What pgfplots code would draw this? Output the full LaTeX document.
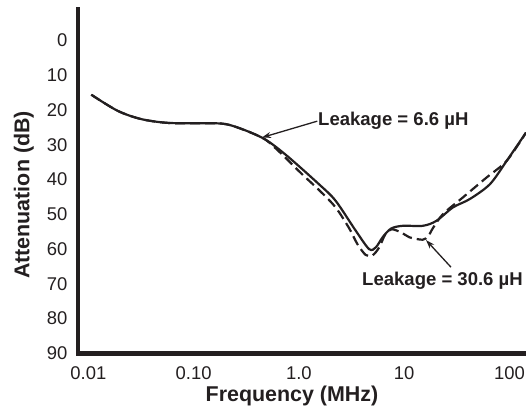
\documentclass[border=0pt]{standalone}
\usepackage{fontspec}
\setmainfont{Liberation Sans}
\usepackage{pgfplots}
\pgfplotsset{compat=1.18}
\usetikzlibrary{arrows.meta}
\definecolor{ink}{HTML}{231F20}
\begin{document}
\begin{tikzpicture}
\useasboundingbox (-78bp,-54.6bp) rectangle (448bp,353.4bp);
\begin{axis}[
  at={(0,0)}, anchor=south west, scale only axis,
  width=448bp, height=343.85bp,
  xmode=log, xmin=0.00798, xmax=143.4,
  ymin=-8.9, ymax=90, y dir=reverse,
  axis x line=bottom, axis y line=left,
  axis line style={-, line width=4.5bp, ink, line cap=rect},
  tick style={draw=none},
  xtick={0.01,0.1,1,10,100}, xticklabels={0.01,0.10,1.0,10,100},
  ytick={0,10,...,90},
  /pgf/number format/assume math mode=true,
  tick label style={font=\fontsize{18.5}{22}\selectfont, text=ink},
  xticklabel style={yshift=-8bp},
  yticklabel style={xshift=-5bp},
  xlabel={Frequency (MHz)}, ylabel={Attenuation (dB)},
  label style={font=\bfseries\fontsize{21.5}{25}\selectfont, text=ink},
  xlabel style={at={(axis description cs:0.4777,0)}, anchor=center, yshift=-42.6bp},
  ylabel style={at={(axis description cs:-0.121,0.4607)}, anchor=center},
]
% Leakage = 30.6 uH (dashed)
\addplot[ink, line width=2.2bp, dash pattern=on 10bp off 5bp, smooth, tension=0.5] coordinates {
 (0.01068,15.6) (0.0189,20.2) (0.0317,22.6) (0.0569,23.7) (0.1183,23.8)
 (0.2131,24.2) (0.4432,27.9) (0.62,31.4) (1.05,38.2) (1.6,43.4) (2.231,48.0)
 (3.0,54.0) (3.6,58.6) (4.318,61.7) (5.0,61.8) (5.79,59.5) (6.6,55.8) (7.6,54.3)
 (9.5,55.3) (11.2,56.6) (15.0,57.3) (17.0,56.2) (18.7,54.0) (23.4,49.9) (36.2,45.1)
 (60.6,39.4) (94.1,34.6) (143.4,26.5)
};
% Leakage = 6.6 uH (solid)
\addplot[ink, line width=2.2bp, smooth, tension=0.5] coordinates {
 (0.01068,15.6) (0.0189,20.2) (0.0317,22.6) (0.0569,23.7) (0.1183,23.8)
 (0.2131,24.2) (0.4432,27.9) (0.738,32.7) (1.545,41.3) (2.231,46.1)
 (3.463,54.7) (4.642,60.0) (5.374,59.5) (6.235,56.6) (7.49,54.1)
 (9.68,53.3) (15.02,53.3) (20.14,51.9) (29.07,48.0) (41.98,45.6)
 (65.3,41.3) (94.1,34.6) (143.4,26.5)
};
\draw[ink, line width=1.3bp, -{Stealth[length=9bp,width=6bp]}] (axis cs:1.495,23.2) -- (axis cs:0.446,27.9);
\node[anchor=west, inner sep=0pt, font=\bfseries\fontsize{18.6}{22}\selectfont, text=ink] at (axis cs:1.518,23.1) {Leakage = 6.6 µH};
\draw[ink, line width=1.3bp, -{Stealth[length=9bp,width=6bp]}] (axis cs:27.8,65.2) -- (axis cs:16.1,57.4);
\node[anchor=west, inner sep=0pt, font=\bfseries\fontsize{18.6}{22}\selectfont, text=ink] at (axis cs:3.975,69.2) {Leakage = 30.6 µH};
\end{axis}
\end{tikzpicture}
\end{document}
